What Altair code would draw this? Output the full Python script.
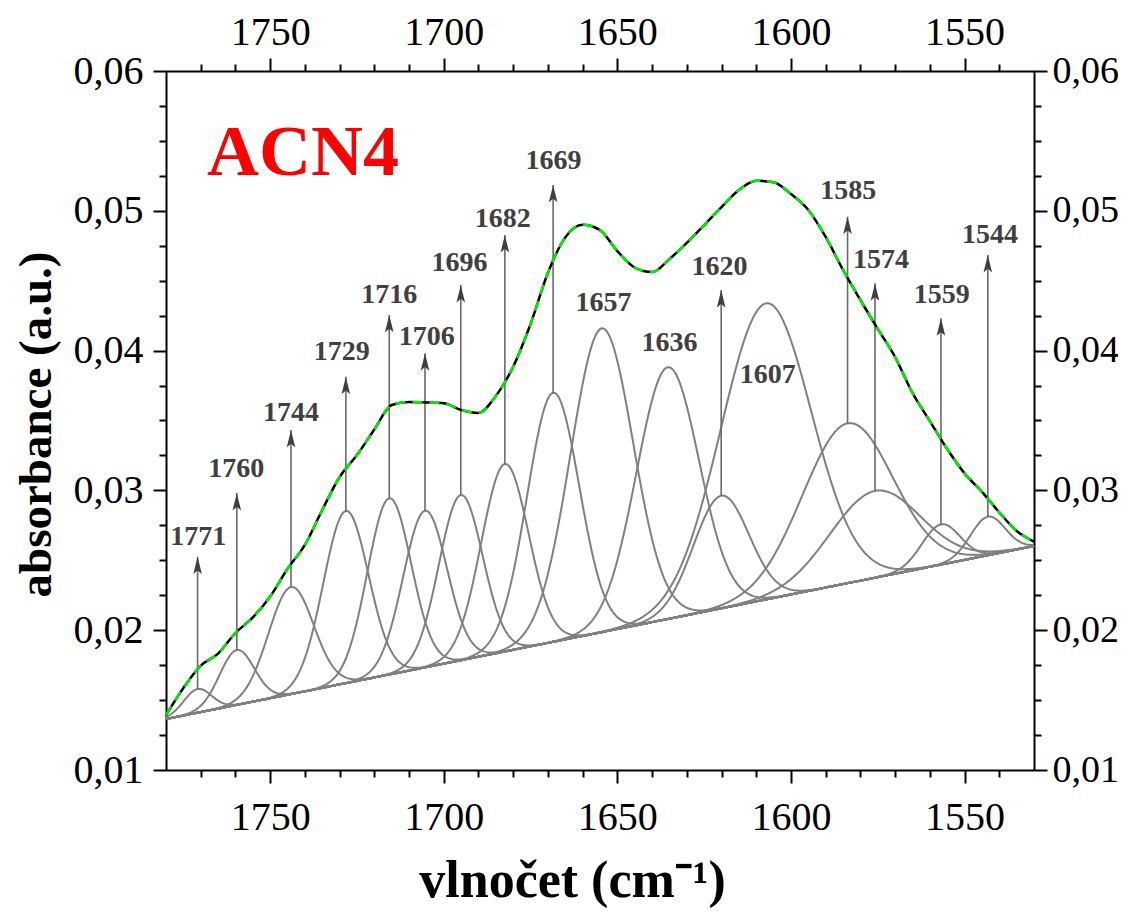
import altair as alt
import numpy as np
import pandas as pd

# ---------------- data ----------------
baseline_wn = [1780, 1530]
baseline_abs = [0.01365, 0.02602]

peak_labels = ["1771", "1760", "1744", "1729", "1716", "1706", "1696", "1682", "1669",
               "1657", "1636", "1620", "1607", "1585", "1574", "1559", "1544"]
peak_centers = [1770.9, 1759.6, 1744.0, 1728.2, 1715.7, 1705.4, 1695.1, 1682.4, 1668.5,
                1654.5, 1635.5, 1620.1, 1607.2, 1583.7, 1575.8, 1556.8, 1543.3]
peak_tops = [0.01579, 0.01858, 0.02309, 0.02853, 0.02944, 0.02855, 0.02967, 0.03189, 0.03699,
             0.04159, 0.03881, 0.02962, 0.04338, 0.03480, 0.02996, 0.02757, 0.02812]
peak_sigmas = [4.0, 5.0, 6.5, 6.5, 6.3, 6.3, 6.3, 6.8, 7.5,
               9.0, 9.0, 8.0, 13.0, 13.0, 13.0, 5.5, 5.0]
# arrow tips (None = no arrow)
arrow_tips = [0.02526, 0.02981, 0.03432, 0.03813, 0.04255, 0.03981, 0.04469, 0.04827, 0.05185,
              None, None, 0.04433, None, 0.04958, 0.04481, 0.04231, 0.04684]
label_wn = [1770.7, 1759.8, 1744.0, 1729.4, 1715.7, 1704.9, 1695.5, 1683.0, 1668.4,
            1654.0, 1635.0, 1620.6, 1606.7, 1583.5, 1574.1, 1556.6, 1542.7]
label_abs = [0.02665, 0.03151, 0.03552, 0.03992, 0.04398, 0.04095, 0.04624, 0.04939, 0.05356,
             0.04343, 0.04052, 0.04600, 0.03825, 0.05144, 0.04648, 0.04398, 0.04827]

env_wn = [1780, 1775, 1770, 1765, 1760, 1755, 1750, 1745, 1740, 1735, 1730, 1725, 1720,
          1715, 1710, 1705, 1700, 1695, 1690, 1685, 1680, 1675, 1670, 1665, 1660, 1655,
          1650, 1645, 1640, 1635, 1630, 1625, 1620, 1615, 1610, 1605, 1600, 1595, 1590,
          1585, 1580, 1575, 1570, 1565, 1560, 1555, 1550, 1545, 1540, 1535, 1530]
env_abs = [0.01393, 0.01587, 0.01747, 0.01833, 0.01980, 0.02091, 0.02241, 0.02440, 0.02610,
           0.02860, 0.03096, 0.03253, 0.03436, 0.03611, 0.03632, 0.03629, 0.03623, 0.03575,
           0.03554, 0.03675, 0.03885, 0.04190, 0.04557, 0.04810, 0.04900, 0.04862, 0.04712,
           0.04594, 0.04562, 0.04655, 0.04770, 0.04898, 0.05027, 0.05149, 0.05215, 0.05204,
           0.05120, 0.05006, 0.04813, 0.04577, 0.04362, 0.04155, 0.03954, 0.03697, 0.03496,
           0.03296, 0.03122, 0.02989, 0.02843, 0.02710, 0.02633]

sample_name = ["ACN4"]
sample_wn = [1768.2]
sample_abs = [0.05256]

x_title = "vlnočet (cm⁻¹)"
y_title = "absorbance (a.u.)"

# ---------------- build tables ----------------
def base_at(w):
    w = np.asarray(w, dtype=float)
    return baseline_abs[0] + (baseline_abs[1] - baseline_abs[0]) * (baseline_wn[0] - w) / (baseline_wn[0] - baseline_wn[1])

grid = np.arange(1530.0, 1780.01, 0.5)
rows = []
for lab, c, top, s in zip(peak_labels, peak_centers, peak_tops, peak_sigmas):
    amp = top - float(base_at(c))
    yy = base_at(grid) + amp * np.exp(-0.5 * ((grid - c) / s) ** 2)
    rows.append(pd.DataFrame({"wn": grid, "a": yy, "peak": lab}))
comp_df = pd.concat(rows, ignore_index=True)

base_df = pd.DataFrame({"wn": baseline_wn, "a": baseline_abs})
env_df = pd.DataFrame({"wn": env_wn, "a": env_abs})

arr_df = pd.DataFrame({
    "wn": [c for c, t in zip(peak_centers, arrow_tips) if t is not None],
    "top": [p for p, t in zip(peak_tops, arrow_tips) if t is not None],
    "tip": [t for t in arrow_tips if t is not None],
})
lab_df = pd.DataFrame({"wn": label_wn, "a": label_abs, "txt": peak_labels})
name_df = pd.DataFrame({"wn": sample_wn, "a": sample_abs, "txt": sample_name})

# ---------------- scales / axes ----------------
xs = alt.Scale(domain=[1530, 1780], reverse=True, nice=False, zero=False)
ys = alt.Scale(domain=[0.01, 0.06], nice=False, zero=False)

x_vals = list(range(1540, 1780, 10))
y_vals = [round(0.01 + 0.0025 * i, 4) for i in range(21)]

x_major = "datum.value % 50 === 0"
y_major = "abs(datum.value*100 - round(datum.value*100)) < 0.001"

common_axis = dict(
    labelFont="Liberation Serif", labelFontSize=40, labelColor="black",
    domainColor="black", domainWidth=2, tickColor="black", tickWidth=2,
    grid=False, labelOverlap=False, labelFlush=False,
)

def x_axis(orient, title):
    kw = dict(common_axis)
    kw.update(
        orient=orient, values=x_vals,
        tickSize={"condition": {"test": x_major, "value": 13}, "value": 7},
        labelExpr=f"{x_major} ? format(datum.value, 'd') : ''",
        labelPadding=14 if orient == "bottom" else 6,
    )
    if title:
        kw.update(title=title, titleFont="Liberation Serif", titleFontWeight="bold",
                  titleFontSize=52, titleColor="black", titleX=406, titleY=126,
                  titleBaseline="alphabetic", titleAlign="center")
    else:
        kw.update(title="")
    return alt.Axis(**kw)

def y_axis(orient, title):
    kw = dict(common_axis)
    kw.update(
        orient=orient, values=y_vals,
        tickSize={"condition": {"test": y_major, "value": 13}, "value": 7},
        labelExpr=f"{y_major} ? replace(format(datum.value, '.2f'), '.', ',') : ''",
        labelPadding=10 if orient == "left" else 5,
    )
    if orient == "right":
        kw.update(labelFontSize=38)
    if title:
        kw.update(title=title, titleFont="Liberation Serif", titleFontWeight="bold",
                  titleFontSize=47, titleColor="black", titleX=-116, titleY=353,
                  titleAngle=-90, titleBaseline="alphabetic", titleAlign="center")
    else:
        kw.update(title="")
    return alt.Axis(**kw)

# ---------------- layers ----------------
comp = alt.Chart(comp_df).mark_line(color="#808080", strokeWidth=2).encode(
    x=alt.X("wn:Q", scale=xs, axis=x_axis("bottom", x_title)),
    y=alt.Y("a:Q", scale=ys, axis=y_axis("left", y_title)),
    detail="peak:N",
)

baseline = alt.Chart(base_df).mark_line(color="#808080", strokeWidth=2).encode(
    x=alt.X("wn:Q", scale=xs, axis=x_axis("top", None)),
    y=alt.Y("a:Q", scale=ys, axis=y_axis("right", None)),
)

env_black = alt.Chart(env_df).mark_line(color="black", strokeWidth=2.5, interpolate="monotone").encode(
    x=alt.X("wn:Q", scale=xs, axis=None),
    y=alt.Y("a:Q", scale=ys, axis=None),
)
env_green = alt.Chart(env_df).mark_line(color="#00ee00", strokeWidth=2.5, strokeDash=[10, 7],
                                        interpolate="monotone").encode(
    x=alt.X("wn:Q", scale=xs, axis=None),
    y=alt.Y("a:Q", scale=ys, axis=None),
)

arrows = alt.Chart(arr_df).mark_rule(color="#6a6a6a", strokeWidth=1.6).encode(
    x=alt.X("wn:Q", scale=xs, axis=None),
    y=alt.Y("top:Q", scale=ys, axis=None),
    y2="tip:Q",
)
heads = alt.Chart(arr_df).mark_point(
    shape="M0,0 L0.42,1.7 L0,1.35 L-0.42,1.7 Z", filled=True, size=420,
    color="#404040", opacity=1, strokeWidth=0,
).encode(
    x=alt.X("wn:Q", scale=xs, axis=None),
    y=alt.Y("tip:Q", scale=ys, axis=None),
)
labels = alt.Chart(lab_df).mark_text(
    font="Liberation Serif", fontWeight="bold", fontSize=28, color="#404040", baseline="middle",
).encode(
    x=alt.X("wn:Q", scale=xs, axis=None),
    y=alt.Y("a:Q", scale=ys, axis=None),
    text="txt:N",
)
name = alt.Chart(name_df).mark_text(
    font="Liberation Serif", fontWeight="bold", fontSize=72, color="#ff0000",
    align="left", baseline="alphabetic",
).encode(
    x=alt.X("wn:Q", scale=xs, axis=None),
    y=alt.Y("a:Q", scale=ys, axis=None),
    text="txt:N",
)

chart = alt.layer(comp, baseline, arrows, heads, labels, env_black, env_green, name).resolve_axis(
    x="independent", y="independent"
).properties(
    width=868, height=699,
    padding={"left": 158, "top": 63, "right": 84, "bottom": 140},
    autosize=alt.AutoSizeParams(type="none"),
).configure_view(strokeWidth=0).configure(background="white")

chart.save("out.html", embed_options={"renderer": "svg", "actions": False})
